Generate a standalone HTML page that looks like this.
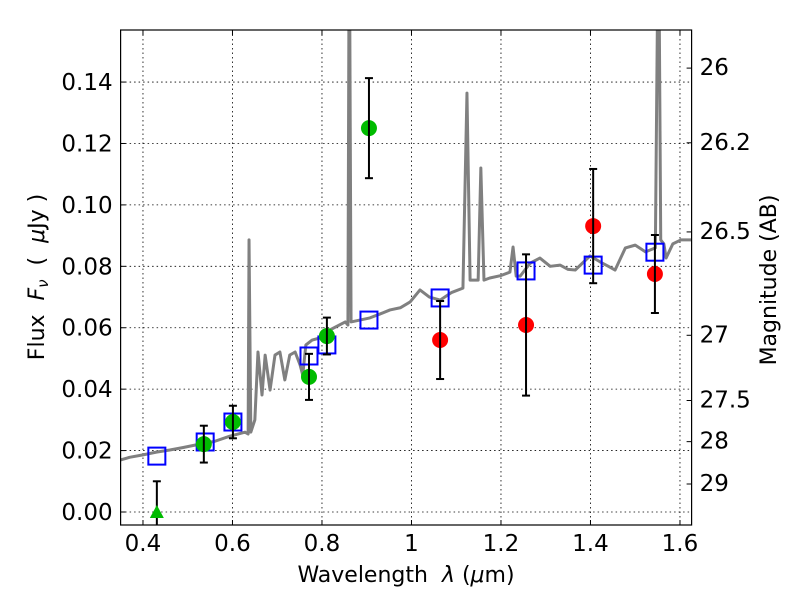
<!DOCTYPE html>
<html><head><meta charset="utf-8"><style>
body{margin:0;background:#fff;}
svg text{font-family:"DejaVu Sans","Liberation Sans",sans-serif;}
</style></head><body>
<svg id="chart" width="800" height="600" xmlns="http://www.w3.org/2000/svg">
<rect width="800" height="600" fill="#fff"/>
<g id="grid"></g>
<g id="plot"></g>
<rect x="120.6" y="30" width="571" height="495" fill="none" stroke="#000" stroke-width="1.2"/>
<g id="axes"></g>
<text x="406" y="582" font-size="22" text-anchor="middle" xml:space="preserve">Wavelength  <tspan font-style="italic">λ</tspan> (<tspan font-style="italic">μ</tspan>m)</text>
<text transform="translate(44,277) rotate(-90)" font-size="22" text-anchor="middle" xml:space="preserve">Flux  <tspan font-style="italic">F</tspan><tspan font-style="italic" font-size="15" dy="4">ν</tspan><tspan dy="-4">  (  </tspan><tspan font-style="italic">μ</tspan>Jy )</text>
<text transform="translate(776,280) rotate(-90)" font-size="22" text-anchor="middle">Magnitude (AB)</text>
</svg>
<script>
const xTicks=[0.4,0.6,0.8,1.0,1.2,1.4,1.6];
const xTickLabels=["0.4","0.6","0.8","1","1.2","1.4","1.6"];
const yTicks=[0,0.02,0.04,0.06,0.08,0.10,0.12,0.14];
const yTickLabels=["0.00","0.02","0.04","0.06","0.08","0.10","0.12","0.14"];
const magTicks=[26,26.2,26.5,27,27.5,28,29];
const magTickLabels=["26","26.2","26.5","27","27.5","28","29"];
const specLam=[0.349,0.370,0.400,0.430,0.460,0.490,0.527,0.560,0.594,0.628,0.635,0.637,0.641,0.650,0.657,0.666,0.673,0.684,0.695,0.706,0.717,0.728,0.740,0.751,0.757,0.764,0.778,0.796,0.818,0.852,0.858,0.861,0.865,0.907,0.930,0.952,0.975,0.997,1.019,1.040,1.064,1.090,1.115,1.124,1.131,1.149,1.155,1.162,1.175,1.200,1.220,1.227,1.234,1.243,1.265,1.287,1.310,1.332,1.350,1.366,1.399,1.422,1.440,1.455,1.478,1.500,1.523,1.545,1.552,1.557,1.564,1.569,1.584,1.602,1.629];
const specFlux=[0.0169,0.0178,0.0186,0.0195,0.0202,0.0210,0.0221,0.0230,0.0247,0.0260,0.0254,0.0886,0.0260,0.0300,0.0521,0.0381,0.0511,0.0397,0.0511,0.0521,0.0430,0.0511,0.0521,0.0479,0.0446,0.0544,0.0560,0.0567,0.0593,0.0619,0.0609,0.2,0.0619,0.0632,0.0645,0.0658,0.0665,0.0684,0.0723,0.0700,0.0690,0.0715,0.0729,0.1364,0.0755,0.0755,0.1120,0.0755,0.0762,0.0770,0.0781,0.0863,0.0768,0.0768,0.0810,0.0827,0.0800,0.0804,0.0790,0.0788,0.0834,0.0814,0.0800,0.0788,0.0860,0.0869,0.0847,0.0860,0.2,0.0886,0.0873,0.0827,0.0873,0.0886,0.0886];
const modelLam=[0.431,0.539,0.601,0.771,0.811,0.905,1.064,1.256,1.406,1.544];
const modelFlux=[0.0182,0.0228,0.0293,0.0508,0.0544,0.0625,0.0697,0.0785,0.0804,0.0846];
const greenLam=[0.536,0.601,0.771,0.811,0.905];
const greenFlux=[0.0221,0.0293,0.0440,0.0573,0.1250];
const greenErr=[0.0060,0.0053,0.0075,0.0060,0.0163];
const limLam=[0.431];
const limFlux=[0.0];
const limErr=[0.010];
const redLam=[1.064,1.256,1.406,1.544];
const redFlux=[0.0560,0.0609,0.0931,0.0775];
const redErr=[0.0127,0.0230,0.0186,0.0127];

const NS="http://www.w3.org/2000/svg";
const X0=120.6,X1=691.6,Y0=30,Y1=525;
const xs=v=>120.6+(v-0.35)*447.5;
const ys=v=>512-v*3071;
function mk(tag,attrs,parent){const e=document.createElementNS(NS,tag);for(const k in attrs)e.setAttribute(k,attrs[k]);parent.appendChild(e);return e;}
const grid=document.getElementById('grid'),plot=document.getElementById('plot'),axes=document.getElementById('axes');
xTicks.forEach((t,i)=>{const x=xs(t);
 const g=mk('line',{x1:x,x2:x,y1:Y0,y2:Y1,stroke:'#000','stroke-width':0.8,'stroke-dasharray':'1.5,3'},grid);
 
 mk('line',{x1:x,x2:x,y1:Y1,y2:Y1-5,stroke:'#000'},axes);mk('line',{x1:x,x2:x,y1:Y0,y2:Y0+5,stroke:'#000'},axes);
 const tx=mk('text',{x:x,y:Y1+26,'font-size':23,'text-anchor':'middle'},axes);tx.textContent=xTickLabels[i];
 });
yTicks.forEach((t,i)=>{const y=ys(t);
 const g=mk('line',{x1:X0,x2:X1,y1:y,y2:y,stroke:'#000','stroke-width':0.8,'stroke-dasharray':'1.5,3'},grid);
 
 mk('line',{x1:X0,x2:X0+5,y1:y,y2:y,stroke:'#000'},axes);
 const tx=mk('text',{x:X0-8,y:y+8,'font-size':23,'text-anchor':'end'},axes);tx.textContent=yTickLabels[i];
 });
magTicks.forEach((m,i)=>{const y=ys(Math.pow(10,(23.9-m)/2.5));
 mk('line',{x1:X1,x2:X1-5,y1:y,y2:y,stroke:'#000'},axes);
 const tx=mk('text',{x:X1+8,y:y+7,'font-size':23},axes);tx.textContent=magTickLabels[i];
 });
const clip=mk('clipPath',{id:'cp'},plot);mk('rect',{x:X0,y:Y0,width:X1-X0,height:Y1-Y0},clip);
const pg=mk('g',{'clip-path':'url(#cp)'},plot);
const sp=mk('polyline',{points:specLam.map((l,i)=>xs(l)+','+ys(specFlux[i])).join(' '),fill:'none',stroke:'#808080','stroke-width':3,'stroke-linejoin':'round'},pg);

modelLam.forEach((l,i)=>{const r=mk('rect',{x:xs(l)-8.5,y:ys(modelFlux[i])-8.5,width:17,height:17,fill:'none',stroke:'#0000ff','stroke-width':2},pg);
 });
function eb(l,f,e,g){const x=xs(l),a=ys(f+e),b=ys(f-e);
 mk('line',{x1:x,x2:x,y1:a,y2:b,stroke:'#000','stroke-width':2},g);
 mk('line',{x1:x-4,x2:x+4,y1:a,y2:a,stroke:'#000','stroke-width':2},g);
 mk('line',{x1:x-4,x2:x+4,y1:b,y2:b,stroke:'#000','stroke-width':2},g);}
greenLam.forEach((l,i)=>{const g=mk('g',{},pg);
 
 mk('circle',{cx:xs(l),cy:ys(greenFlux[i]),r:8,fill:'#00bb00'},g);eb(l,greenFlux[i],greenErr[i],g);});
limLam.forEach((l,i)=>{const g=mk('g',{},pg);
 
 eb(l,limFlux[i],limErr[i],g);const x=xs(l),y=ys(limFlux[i]);
 mk('polygon',{points:`${x-7},${y+6} ${x+7},${y+6} ${x},${y-7}`,fill:'#00bb00'},g);});
redLam.forEach((l,i)=>{const g=mk('g',{},pg);
 
 mk('circle',{cx:xs(l),cy:ys(redFlux[i]),r:8,fill:'#ff0000'},g);eb(l,redFlux[i],redErr[i],g);});
</script>
</body></html>
